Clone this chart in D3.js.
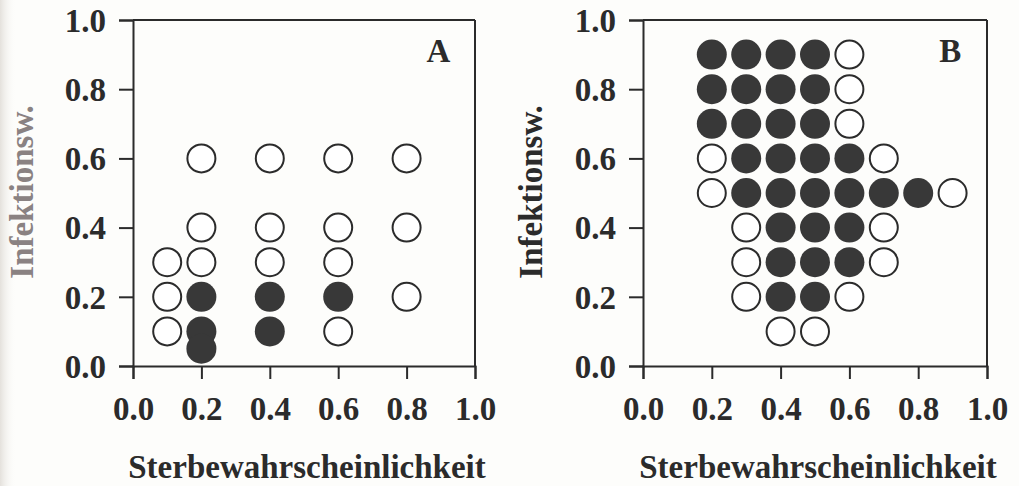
<!DOCTYPE html>
<html>
<head>
<meta charset="utf-8">
<script src="https://cdn.jsdelivr.net/npm/d3@7"></script>
<style>
  html, body { margin: 0; padding: 0; background: #fdfdfb; }
  svg { display: block; }
  text { font-family: "Liberation Serif", "Times New Roman", serif; font-weight: bold; }
</style>
</head>
<body>
<svg id="chart" width="1019" height="486"></svg>
<script>
// Axis ticks shared by both panels
const tickValues = [0.0, 0.2, 0.4, 0.6, 0.8, 1.0];
const xTitle = "Sterbewahrscheinlichkeit";
const yTitle = "Infektionsw.";

// Panel A: [Sterbewahrscheinlichkeit, Infektionswahrscheinlichkeit]
const openA = [
  [0.1, 0.3], [0.1, 0.2], [0.1, 0.1],
  [0.2, 0.6], [0.2, 0.4], [0.2, 0.3],
  [0.4, 0.6], [0.4, 0.4], [0.4, 0.3],
  [0.6, 0.6], [0.6, 0.4], [0.6, 0.3], [0.6, 0.1],
  [0.8, 0.6], [0.8, 0.4], [0.8, 0.2]
];
const filledA = [
  [0.2, 0.2], [0.2, 0.1], [0.2, 0.05],
  [0.4, 0.2], [0.4, 0.1],
  [0.6, 0.2]
];

// Panel B
const openB = [
  [0.6, 0.9], [0.6, 0.8], [0.6, 0.7],
  [0.2, 0.6], [0.7, 0.6],
  [0.2, 0.5], [0.9, 0.5],
  [0.3, 0.4], [0.7, 0.4],
  [0.3, 0.3], [0.7, 0.3],
  [0.3, 0.2], [0.6, 0.2],
  [0.4, 0.1], [0.5, 0.1]
];
const filledB = [
  [0.2, 0.9], [0.3, 0.9], [0.4, 0.9], [0.5, 0.9],
  [0.2, 0.8], [0.3, 0.8], [0.4, 0.8], [0.5, 0.8],
  [0.2, 0.7], [0.3, 0.7], [0.4, 0.7], [0.5, 0.7],
  [0.3, 0.6], [0.4, 0.6], [0.5, 0.6], [0.6, 0.6],
  [0.3, 0.5], [0.4, 0.5], [0.5, 0.5], [0.6, 0.5], [0.7, 0.5], [0.8, 0.5],
  [0.4, 0.4], [0.5, 0.4], [0.6, 0.4],
  [0.4, 0.3], [0.5, 0.3], [0.6, 0.3],
  [0.4, 0.2], [0.5, 0.2]
];

const ink = "#2b2b2b";
const fillInk = "#383838";
const fontPx = 33;

const svg = d3.select("#chart");

// faint shading along the left border of the sheet
const defs = svg.append("defs");
const grad = defs.append("linearGradient").attr("id", "edge").attr("x1", 0).attr("x2", 1);
grad.append("stop").attr("offset", 0).attr("stop-color", "#e4e1dc");
grad.append("stop").attr("offset", 1).attr("stop-color", "#fdfdfb").attr("stop-opacity", 0);
svg.append("rect").attr("x", 0).attr("y", 0).attr("width", 16).attr("height", 486).attr("fill", "url(#edge)");

const panels = [
  { label: "A", left: 133, right: 475, open: openA, filled: filledA, r: 14, yTitleX: 33, yTitleColor: "#8a8282" },
  { label: "B", left: 643, right: 987, open: openB, filled: filledB, r: 14, yTitleX: 542, yTitleColor: ink }
];
const plotTop = 20, plotBottom = 366;

panels.forEach(p => {
  const x = d3.scaleLinear().domain([0, 1]).range([p.left, p.right]);
  const y = d3.scaleLinear().domain([0, 1]).range([plotBottom, plotTop]);
  const g = svg.append("g");

  // frame: top and right edges
  g.append("line").attr("x1", x(0)).attr("x2", x(1)).attr("y1", y(1)).attr("y2", y(1))
    .attr("stroke", ink).attr("stroke-width", 2);
  g.append("line").attr("x1", x(1)).attr("x2", x(1)).attr("y1", y(1)).attr("y2", y(0))
    .attr("stroke", ink).attr("stroke-width", 2);

  const fmt = d3.format(".1f");
  const xAxis = g.append("g").attr("transform", `translate(0,${plotBottom})`)
    .call(d3.axisBottom(x).tickValues(tickValues).tickFormat(fmt).tickSize(13).tickPadding(18));
  const yAxis = g.append("g").attr("transform", `translate(${p.left},0)`)
    .call(d3.axisLeft(y).tickValues(tickValues).tickFormat(fmt).tickSize(14).tickPadding(13));

  [xAxis, yAxis].forEach(a => {
    a.select(".domain").attr("stroke", ink).attr("stroke-width", 2);
    a.selectAll(".tick line").attr("stroke", ink).attr("stroke-width", 2);
    a.selectAll(".tick text").attr("fill", ink)
      .style("font-size", fontPx + "px").style("font-family", "'Liberation Serif', serif").style("font-weight", "bold");
  });
  yAxis.selectAll(".tick text").attr("dy", "0.34em");

  // open circles
  g.selectAll("circle.open").data(p.open).join("circle").attr("class", "open")
    .attr("cx", d => x(d[0])).attr("cy", d => y(d[1])).attr("r", p.r)
    .attr("fill", "#ffffff").attr("stroke", ink).attr("stroke-width", 2);
  // filled circles
  g.selectAll("circle.filled").data(p.filled).join("circle").attr("class", "filled")
    .attr("cx", d => x(d[0])).attr("cy", d => y(d[1])).attr("r", p.r + 1)
    .attr("fill", fillInk).attr("stroke", "none");

  // panel letter
  g.append("text").attr("x", x(0.893)).attr("y", 62).attr("text-anchor", "middle")
    .attr("fill", ink).style("font-size", fontPx + "px").text(p.label);

  // axis titles
  g.append("text").attr("x", (p.left + p.right) / 2 + 3).attr("y", 478).attr("text-anchor", "middle")
    .attr("fill", ink).style("font-size", fontPx + "px").text(xTitle);
  g.append("text").attr("transform", `translate(${p.yTitleX},192) rotate(-90)`).attr("text-anchor", "middle")
    .attr("fill", p.yTitleColor).style("font-size", fontPx + "px").text(yTitle);
});
</script>
</body>
</html>
